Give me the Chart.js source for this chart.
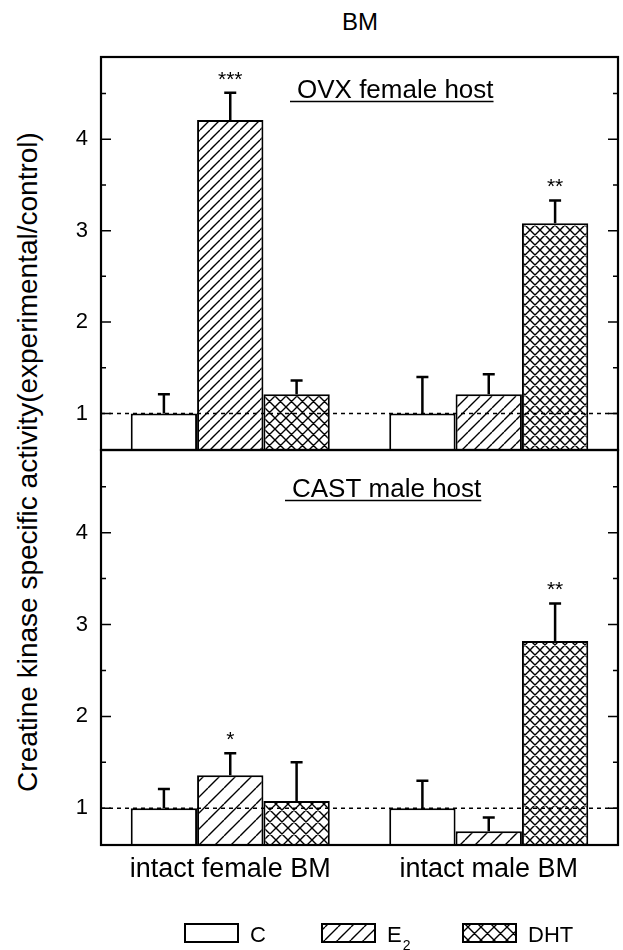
<!DOCTYPE html>
<html>
<head>
<meta charset="utf-8">
<script src="https://cdn.jsdelivr.net/npm/chart.js@4.4.1/dist/chart.umd.min.js"></script>
<style>
  body { margin: 0; background: #fff; }
  #wrap { position: relative; width: 623px; height: 950px; font-family: "Liberation Sans", Arial, sans-serif; color: #000; }
  canvas { position: absolute; left: 0; }
  #topPanel { top: 0; }
  #bottomPanel { top: 420px; }
  #title { position: absolute; left: 360px; top: 22px; transform: translate(-50%, -50%); font-size: 24px; line-height: 24px; }
  #yTitle { position: absolute; left: 28px; top: 462px; transform: translate(-50%, -50%) rotate(-90deg);
            font-size: 28px; line-height: 28px; white-space: nowrap; }
</style>
</head>
<body>
<div id="wrap">
  <div id="title">BM</div>
  <div id="yTitle">Creatine kinase specific activity(experimental/control)</div>
  <canvas id="topPanel" width="623" height="480"></canvas>
  <canvas id="bottomPanel" width="623" height="530"></canvas>
</div>
<script>
// groups on the x axis
const groups = ['intact female BM', 'intact male BM'];
// treatments (legend text + subscript)
const treatments = ['C', 'E', 'DHT'];
const treatmentSubs = ['', '2', ''];

// OVX female host: mean ratio and +SEM
const ovxC = [1.0, 1.0];
const ovxCSem = [0.21, 0.40];
const ovxE2 = [4.21, 1.21];
const ovxE2Sem = [0.30, 0.22];
const ovxDHT = [1.21, 3.08];
const ovxDHTSem = [0.15, 0.25];
const ovxStars = [['', ''], ['***', ''], ['', '**']];

// CAST male host
const castC = [1.0, 1.0];
const castCSem = [0.21, 0.30];
const castE2 = [1.36, 0.75];
const castE2Sem = [0.24, 0.15];
const castDHT = [1.08, 2.82];
const castDHTSem = [0.42, 0.41];
const castStars = [['', ''], ['*', ''], ['', '**']];

// y axis
const yMin = 0.6;
const yMax = 4.9;
const majorTicks = [1, 2, 3, 4];
const minorTicks = [1.5, 2.5, 3.5, 4.5];
const refLine = 1;

const FONT = '"Liberation Sans", Arial, sans-serif';

// hatch fills: "/" lines or crossed lines on white
function hatch(step, cross) {
    const c = document.createElement('canvas');
    c.width = step;
    c.height = step;
    const g = c.getContext('2d');
    g.fillStyle = '#fff';
    g.fillRect(0, 0, step, step);
    g.strokeStyle = '#000';
    g.lineWidth = 1.4;
    g.beginPath();
    for (const o of [-step, 0, step]) {
        g.moveTo(o, step);
        g.lineTo(o + step, 0);
        if (cross) {
            g.moveTo(o, 0);
            g.lineTo(o + step, step);
        }
    }
    g.stroke();
    return g.createPattern(c, 'repeat');
}

function makeDatasets(values, sems, stars, fills) {
    return values.map((v, i) => ({
        label: treatments[i] + treatmentSubs[i],
        data: v,
        sem: sems[i],
        stars: stars[i],
        backgroundColor: fills[i],
        borderColor: '#000',
        borderWidth: 2,
        borderSkipped: 'start',
        categoryPercentage: 0.77,
        barPercentage: 1.0
    }));
}

// error bars, stars, reference line, frame, ticks and panel caption
const panelDecor = {
    id: 'panelDecor',
    afterDatasetsDraw(chart) {
        const { ctx, chartArea: a } = chart;
        const y = chart.scales.y;
        ctx.save();
        // dashed line at ratio 1
        const y1 = y.getPixelForValue(refLine);
        ctx.strokeStyle = '#000';
        ctx.lineWidth = 1.5;
        ctx.setLineDash([4, 4]);
        ctx.beginPath();
        ctx.moveTo(a.left, y1);
        ctx.lineTo(a.right, y1);
        ctx.stroke();
        ctx.setLineDash([]);

        // upper error bars
        ctx.lineWidth = 2.5;
        ctx.font = '21px ' + FONT;
        ctx.textAlign = 'center';
        ctx.textBaseline = 'alphabetic';
        ctx.fillStyle = '#000';
        chart.data.datasets.forEach((ds, i) => {
            chart.getDatasetMeta(i).data.forEach((bar, j) => {
                const yTop = y.getPixelForValue(ds.data[j] + ds.sem[j]);
                ctx.beginPath();
                ctx.moveTo(bar.x, bar.y);
                ctx.lineTo(bar.x, yTop);
                ctx.moveTo(bar.x - 6, yTop);
                ctx.lineTo(bar.x + 6, yTop);
                ctx.stroke();
                if (ds.stars[j]) ctx.fillText(ds.stars[j], bar.x, yTop - 7);
            });
        });
        ctx.restore();
    },
    afterDraw(chart, args, opts) {
        const { ctx, chartArea: a } = chart;
        const y = chart.scales.y;
        ctx.save();
        ctx.strokeStyle = '#000';
        ctx.lineWidth = 2.2;
        ctx.strokeRect(a.left, a.top, a.right - a.left, a.bottom - a.top);

        // inward ticks on both sides
        ctx.lineWidth = 1.5;
        ctx.beginPath();
        const tick = (v, len) => {
            const p = y.getPixelForValue(v);
            ctx.moveTo(a.left, p);
            ctx.lineTo(a.left + len, p);
            ctx.moveTo(a.right, p);
            ctx.lineTo(a.right - len, p);
        };
        majorTicks.forEach(v => tick(v, 10));
        minorTicks.forEach(v => tick(v, 5));
        ctx.stroke();

        // underlined panel caption
        ctx.font = '26px ' + FONT;
        ctx.fillStyle = '#000';
        ctx.textAlign = 'left';
        ctx.textBaseline = 'alphabetic';
        const tx = a.left + opts.dx;
        const ty = a.top + opts.dy;
        ctx.fillText(opts.caption, tx, ty);
        const w = ctx.measureText(opts.caption).width;
        ctx.beginPath();
        ctx.moveTo(tx - 7, ty + 3.5);
        ctx.lineTo(tx + w, ty + 3.5);
        ctx.stroke();
        ctx.restore();
    }
};

// treatment key under the lower panel
const treatmentKey = {
    id: 'treatmentKey',
    afterDraw(chart, args, opts) {
        const { ctx } = chart;
        ctx.save();
        ctx.strokeStyle = '#000';
        ctx.lineWidth = 2;
        ctx.fillStyle = '#000';
        ctx.textBaseline = 'alphabetic';
        ctx.textAlign = 'left';
        treatments.forEach((t, i) => {
            const x = opts.xs[i];
            ctx.fillStyle = opts.fills[i];
            ctx.fillRect(x, opts.y, 53, 18);
            ctx.strokeRect(x, opts.y, 53, 18);
            ctx.fillStyle = '#000';
            ctx.font = '22px ' + FONT;
            ctx.fillText(t, x + 65, opts.y + 18);
            if (treatmentSubs[i]) {
                const w = ctx.measureText(t).width;
                ctx.font = '14px ' + FONT;
                ctx.fillText(treatmentSubs[i], x + 65 + w + 1, opts.y + 26);
            }
        });
        ctx.restore();
    }
};

function yScale() {
    return {
        min: yMin,
        max: yMax,
        ticks: {
            stepSize: 0.5,
            color: '#000',
            padding: 13,
            font: { size: 22, family: FONT },
            callback: v => (majorTicks.includes(v) ? String(v) : '')
        },
        grid: { display: false, drawTicks: false, tickLength: 0 },
        border: { display: false },
        afterFit: s => { s.width = 101; }
    };
}

const topChart = new Chart(document.getElementById('topPanel'), {
    type: 'bar',
    data: {
        labels: groups,
        datasets: makeDatasets(
            [ovxC, ovxE2, ovxDHT],
            [ovxCSem, ovxE2Sem, ovxDHTSem],
            ovxStars,
            ['#fff', [hatch(10), hatch(12)], [hatch(11, true), hatch(10, true)]]
        )
    },
    options: {
        responsive: false,
        animation: false,
        layout: { padding: { top: 57, right: 5, bottom: 30, left: 0 } },
        plugins: {
            legend: { display: false },
            tooltip: { enabled: false },
            panelDecor: { caption: 'OVX female host', dx: 196, dy: 41 }
        },
        scales: {
            x: { display: false, grid: { display: false } },
            y: yScale()
        }
    },
    plugins: [panelDecor]
});

const bottomChart = new Chart(document.getElementById('bottomPanel'), {
    type: 'bar',
    data: {
        labels: groups,
        datasets: makeDatasets(
            [castC, castE2, castDHT],
            [castCSem, castE2Sem, castDHTSem],
            castStars,
            ['#fff', [hatch(16), hatch(15)], [hatch(12, true), hatch(10, true)]]
        )
    },
    options: {
        responsive: false,
        animation: false,
        layout: { padding: { top: 30, right: 5, bottom: 0, left: 0 } },
        plugins: {
            legend: { display: false },
            tooltip: { enabled: false },
            panelDecor: { caption: 'CAST male host', dx: 191, dy: 47 },
            treatmentKey: { xs: [185, 322, 463], y: 504, fills: ['#fff', hatch(13), hatch(13, true)] }
        },
        scales: {
            x: {
                grid: { display: false, drawTicks: false },
                border: { display: false },
                ticks: { color: '#000', padding: 8, font: { size: 27, family: FONT } },
                afterFit: s => { s.height = 105; }
            },
            y: yScale()
        }
    },
    plugins: [panelDecor, treatmentKey]
});
</script>
</body>
</html>
